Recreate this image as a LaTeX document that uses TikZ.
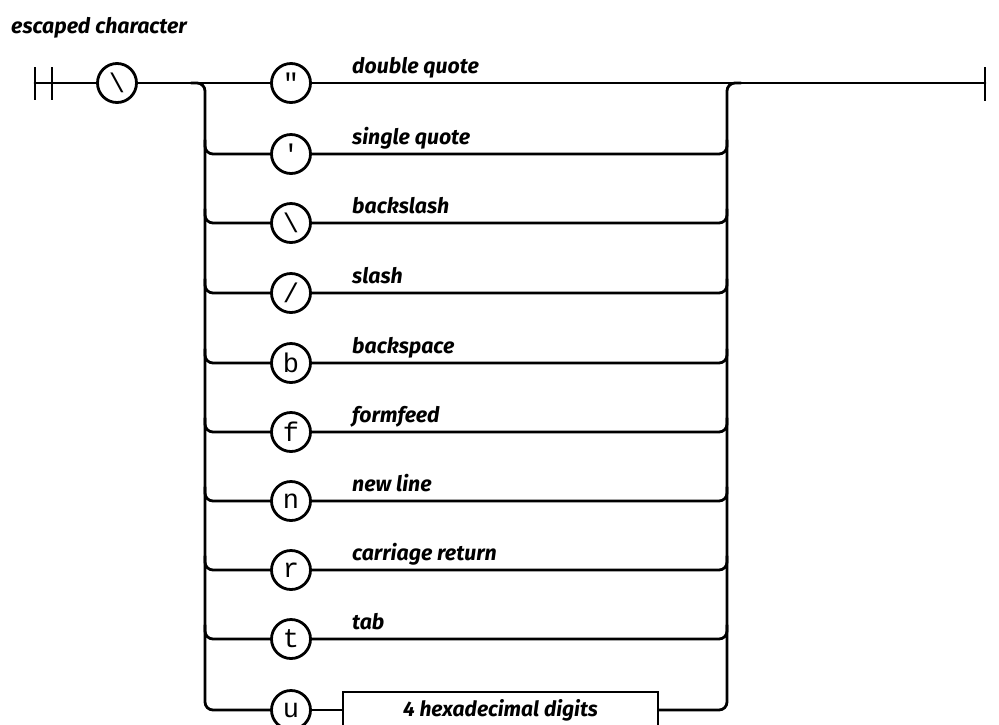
\documentclass[tikz,border=0pt]{standalone}
\usepackage{fontspec}
\setmainfont{Fira Sans}
\newfontfamily\railmono{Liberation Mono}
\usetikzlibrary{calc}
\tikzset{
  rail/.style={line width=2.8pt, line cap=round, rounded corners=8pt},
  term/.style={circle, draw, line width=2.8pt, minimum size=39pt, inner sep=0pt, font=\railmono\fontsize{27}{27}\selectfont},
  nonterm/.style={rectangle, draw, line width=2.4pt, minimum width=315pt, minimum height=36pt, inner sep=0pt, font=\fontsize{21}{21}\selectfont\bfseries\itshape},
  lbl/.style={anchor=base west, inner sep=0pt, font=\fontsize{21.3}{22}\selectfont\bfseries\itshape},
  bar/.style={line width=2.8pt}
}
\begin{document}
\begin{tikzpicture}[x=1pt,y=-1pt]
\useasboundingbox (0,0) rectangle (999,724);
\node[lbl] (title) at (11,33) {escaped character};
% start bars
\coordinate (s1) at (35,83);
\draw[bar] (35,67) -- (35,100);
\draw[bar] (52,67) -- (52,100);
% end bar
\coordinate (e) at (985,83);
\draw[bar] (985,67) -- (985,101);
\node[term] (bs) at (117,83) {\textbackslash};
\coordinate (split) at (205,83);
\coordinate (join) at (727,83);
% terminals
\node[term] (c0) at (291,83) {\textquotedbl};
\node[term] (c1) at (291,154) {\textquotesingle};
\node[term] (c2) at (291,223) {\textbackslash};
\node[term] (c3) at (291,293) {/};
\node[term] (c4) at (291,363) {b};
\node[term] (c5) at (291,432) {f};
\node[term] (c6) at (291,501) {n};
\node[term] (c7) at (291,570) {r};
\node[term] (c8) at (291,639) {t};
\node[term] (c9) at (291,710) {u};
\node[nonterm] (hex) at (500.5,710) {4 hexadecimal digits};
% labels
\node[lbl] (l0) at (352,73) {double quote};
\node[lbl] (l1) at (352,144) {single quote};
\node[lbl] (l2) at (352,213) {backslash};
\node[lbl] (l3) at (352,283) {slash};
\node[lbl] (l4) at (352,353) {backspace};
\node[lbl] (l5) at (352,422) {formfeed};
\node[lbl] (l6) at (352,491) {new line};
\node[lbl] (l7) at (352,560) {carriage return};
\node[lbl] (l8) at (352,629) {tab};
% main line
\draw[rail] (s1) -- (bs) -- (c0) -- (e);
% left rail: top bend and bottom bend
\draw[rail] ($(split)+(-14,0)$) -- (split) -- (split |- c9) -- (c9.west);
% branches in
\foreach \i in {1,...,8}{
  \draw[rail] ($(split |- c\i)+(0,-14)$) -- (split |- c\i) -- (c\i.west);
}
% right rail
\draw[rail] (hex.east) -- (join |- hex) -- (join) -- ($(join)+(14,0)$);
% branches out
\foreach \i in {1,...,8}{
  \draw[rail] (c\i.east) -- (join |- c\i) -- ($(join |- c\i)+(0,-14)$);
}
\draw[rail] (c9.east) -- (hex.west);
\end{tikzpicture}
\end{document}
